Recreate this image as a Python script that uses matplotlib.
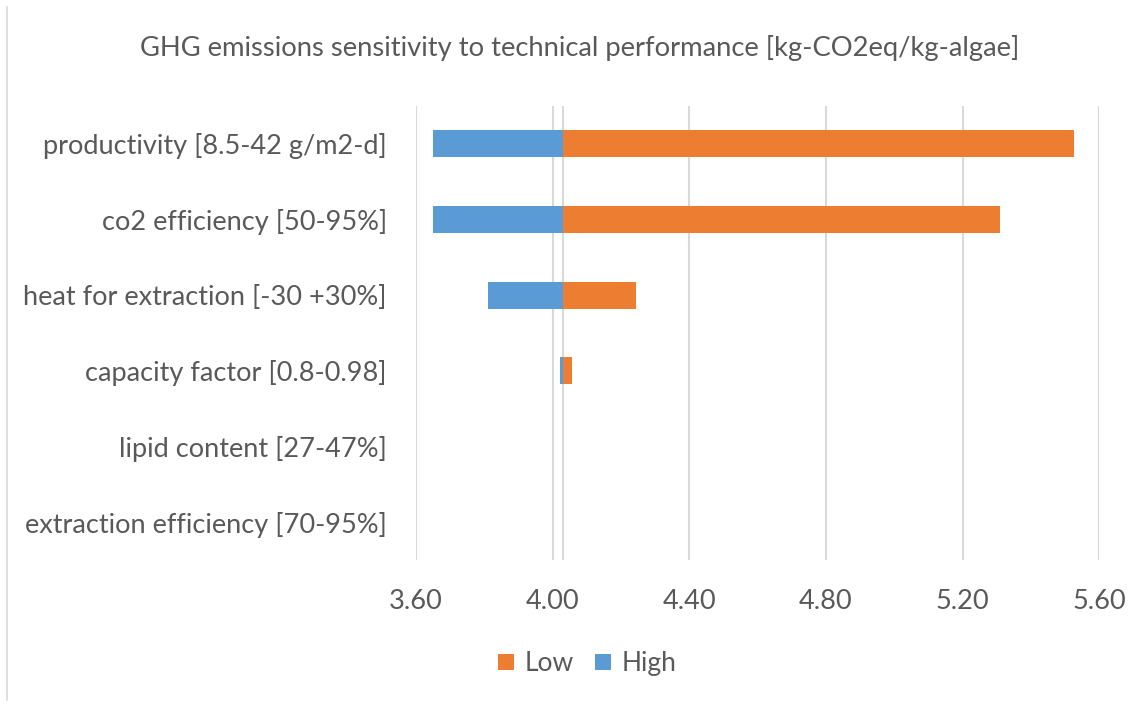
import matplotlib
matplotlib.use("Agg")
import matplotlib.pyplot as plt
from matplotlib.lines import Line2D
from matplotlib.patches import Patch

categories = ["productivity [8.5-42 g/m2-d]", "co2 efficiency [50-95%]",
              "heat for extraction [-30 +30%]", "capacity factor [0.8-0.98]",
              "lipid content [27-47%]", "extraction efficiency [70-95%]"]
baseline = 4.03
low_values = [5.526, 5.308, 4.244, 4.057, 4.03, 4.03]
high_values = [3.651, 3.651, 3.812, 4.022, 4.03, 4.03]
xticks = [3.60, 4.00, 4.40, 4.80, 5.20, 5.60]
title = "GHG emissions sensitivity to technical performance [kg-CO2eq/kg-algae]"

orange = "#ED7D31"
blue = "#5B9BD5"
txt = "#595959"
grid = "#D9D9D9"

plt.rcParams['font.family'] = ['Lato', 'DejaVu Sans']

fig = plt.figure(figsize=(11.33, 7.07), dpi=100)
ax = fig.add_axes([0.3672, 0.2079, 0.9703 - 0.3672, 0.850 - 0.2079])

y = list(range(len(categories)))
ax.barh(y, [v - baseline for v in low_values], left=baseline, height=0.36,
        color=orange, edgecolor="none", label="Low", zorder=3)
ax.barh(y, [v - baseline for v in high_values], left=baseline, height=0.36,
        color=blue, edgecolor="none", label="High", zorder=3)

ax.set_xlim(3.6, 5.6)
ax.set_ylim(len(categories) - 0.5, -0.5)
ax.set_xticks(xticks)
ax.set_xticklabels([f"{t:.2f}" for t in xticks])
ax.set_yticks(y)
ax.set_yticklabels(categories)
ax.xaxis.grid(True, color=grid, linewidth=1.5, zorder=0)
ax.set_axisbelow(True)
ax.axvline(baseline, color=grid, linewidth=1.5, zorder=2)
for s in ax.spines.values():
    s.set_visible(False)
ax.tick_params(axis='both', length=0, colors=txt, labelsize=19.5)
ax.tick_params(axis='x', pad=21)
ax.tick_params(axis='y', pad=21)

fig.text(0.512, 0.932, title, ha="center", va="center", fontsize=19.7, color=txt)

handles = [Patch(facecolor=orange, label="Low"), Patch(facecolor=blue, label="High")]
fig.legend(handles=handles, loc="center", bbox_to_anchor=(0.5185, 0.061), ncol=2,
           frameon=False, fontsize=19, labelcolor=txt, handlelength=0.6,
           handleheight=0.6, handletextpad=0.4, columnspacing=0.8)

fig.add_artist(Line2D([0.0065, 0.0065], [0.01, 0.99], color=grid, linewidth=1.2,
                      transform=fig.transFigure))

fig.savefig("out.png", dpi=100)
